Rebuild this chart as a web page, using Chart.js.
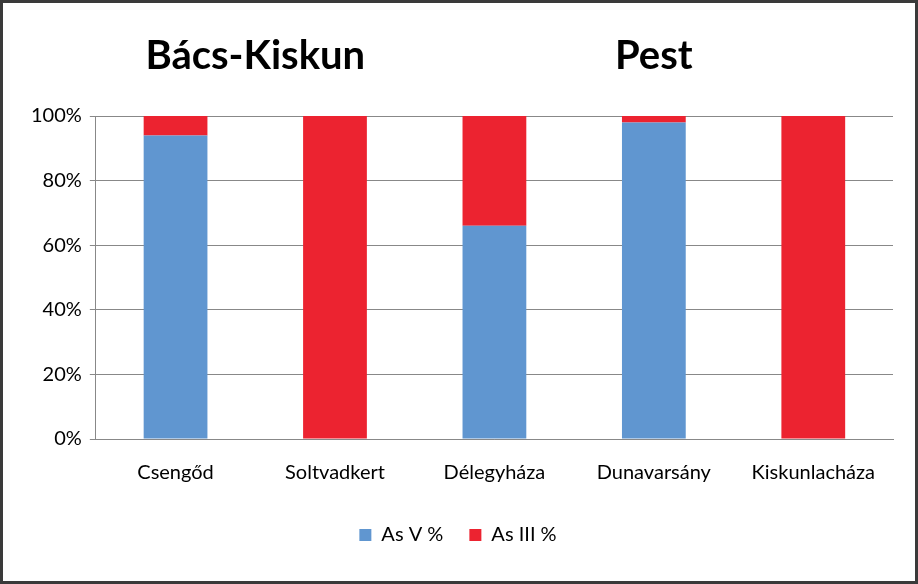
<!DOCTYPE html>
<html>
<head>
<meta charset="utf-8">
<script src="https://cdn.jsdelivr.net/npm/chart.js"></script>
<style>
  html, body { margin: 0; padding: 0; background: #fff; }
  #wrap { position: absolute; left: 0; top: 0; width: 912px; height: 578px; border: 3px solid #3a3a3a; background: #fff; }
</style>
</head>
<body>
<div id="wrap"><canvas id="grafico" width="912" height="578"></canvas></div>
<script>
// Dados do gráfico
const categorias = ['Csengőd', 'Soltvadkert', 'Délegyháza', 'Dunavarsány', 'Kiskunlacháza'];
const asV = [94, 0, 66, 98, 0];
const asIII = [6, 100, 34, 2, 100];
const regioes = [
    { texto: 'Bács-Kiskun', entre: [0, 1] },
    { texto: 'Pest', entre: [3, 3] }
];

// Plugin para os títulos das regiões
const titulosRegioes = {
    id: 'titulosRegioes',
    afterDraw(chart) {
        const ctx = chart.ctx;
        const x = chart.scales.x;
        ctx.save();
        ctx.font = 'bold 40px Lato, "Open Sans", sans-serif';
        ctx.fillStyle = '#000';
        ctx.textAlign = 'center';
        ctx.textBaseline = 'middle';
        regioes.forEach(r => {
            const cx = (x.getPixelForValue(r.entre[0]) + x.getPixelForValue(r.entre[1])) / 2;
            ctx.fillText(r.texto, cx, 53);
        });
        ctx.restore();
    }
};

const fonte = 'Lato, "Open Sans", sans-serif';
const ctx = document.getElementById('grafico').getContext('2d');
new Chart(ctx, {
    type: 'bar',
    data: {
        labels: categorias,
        datasets: [
            { label: 'As V %', data: asV, backgroundColor: '#6096d0', categoryPercentage: 1, barPercentage: 0.4 },
            { label: 'As III %', data: asIII, backgroundColor: '#ec2330', categoryPercentage: 1, barPercentage: 0.4 }
        ]
    },
    options: {
        responsive: false,
        animation: false,
        layout: { padding: { top: 113, right: 22, left: 20, bottom: 26 } },
        scales: {
            x: {
                stacked: true,
                grid: { display: false },
                border: { color: '#888' },
                ticks: { color: '#000', font: { size: 20, family: fonte }, padding: 14 }
            },
            y: {
                stacked: true,
                min: 0, max: 100,
                ticks: { stepSize: 20, color: '#000', callback: v => v + '%', font: { size: 20, family: fonte }, padding: 8 },
                grid: { color: '#888', tickLength: 6 },
                border: { color: '#888' }
            }
        },
        plugins: {
            legend: {
                position: 'bottom',
                labels: { boxWidth: 12, boxHeight: 12, color: '#000', padding: 26, font: { size: 20, family: fonte } }
            },
            tooltip: { enabled: false }
        }
    },
    plugins: [titulosRegioes]
});
</script>
</body>
</html>
